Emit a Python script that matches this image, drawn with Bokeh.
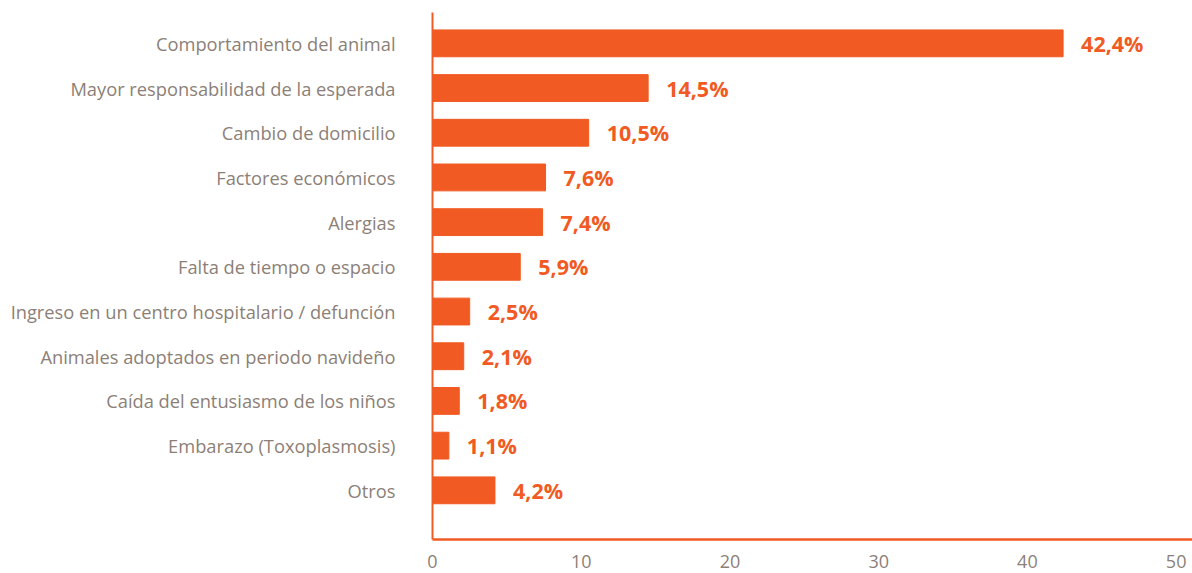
from bokeh.plotting import figure
from bokeh.models import Range1d, ColumnDataSource, FixedTicker
from bokeh.core.properties import value
from bokeh.embed import file_html
from bokeh.resources import INLINE

categories = [
    "Comportamiento del animal",
    "Mayor responsabilidad de la esperada",
    "Cambio de domicilio",
    "Factores económicos",
    "Alergias",
    "Falta de tiempo o espacio",
    "Ingreso en un centro hospitalario / defunción",
    "Animales adoptados en periodo navideño",
    "Caída del entusiasmo de los niños",
    "Embarazo (Toxoplasmosis)",
    "Otros",
]
values = [42.4, 14.5, 10.5, 7.6, 7.4, 5.9, 2.5, 2.1, 1.8, 1.1, 4.2]
x_ticks = [0, 10, 20, 30, 40, 50]

ORANGE = "#F15A22"
GREY = "#8C7F78"

idx = list(range(len(categories)))
labels = [("%.1f" % v).replace(".", ",") + "%" for v in values]
src = ColumnDataSource(dict(y=idx, v=values, lab=labels))

p = figure(width=1192, height=573, output_backend="svg", toolbar_location=None,
           x_range=Range1d(0, 51.1), y_range=Range1d(11.1, -0.69),
           min_border_left=432, min_border_top=12, min_border_right=0, min_border_bottom=34)
p.outline_line_color = None
p.xgrid.grid_line_color = None
p.ygrid.grid_line_color = None
p.background_fill_color = "white"

p.hbar(y="y", right="v", left=0, height=0.6, color=ORANGE, source=src)
p.text(x="v", y="y", text="lab", source=src, x_offset=18, text_baseline="middle",
       text_align="left", text_color=ORANGE, text_font=value("Open Sans"),
       text_font_style="bold", text_font_size="21.5px")

# x axis
xa = p.xaxis[0]
xa.ticker = FixedTicker(ticks=x_ticks)
xa.axis_line_color = ORANGE
xa.axis_line_width = 2.5
xa.major_tick_line_color = None
xa.minor_tick_line_color = None
xa.major_tick_out = 0
xa.major_label_standoff = 15
xa.major_label_text_color = GREY
xa.major_label_text_font = "Open Sans"
xa.major_label_text_font_size = "18px"

# y axis
ya = p.yaxis[0]
ya.ticker = FixedTicker(ticks=idx)
ya.major_label_overrides = {i: c for i, c in zip(idx, categories)}
ya.axis_line_color = ORANGE
ya.axis_line_width = 2
ya.major_tick_line_color = None
ya.minor_tick_line_color = None
ya.major_tick_out = 0
ya.major_label_standoff = 37
ya.major_label_text_color = GREY
ya.major_label_text_font = "Open Sans"
ya.major_label_text_font_size = "18.3px"

open("out.html", "w").write(file_html(p, INLINE))
